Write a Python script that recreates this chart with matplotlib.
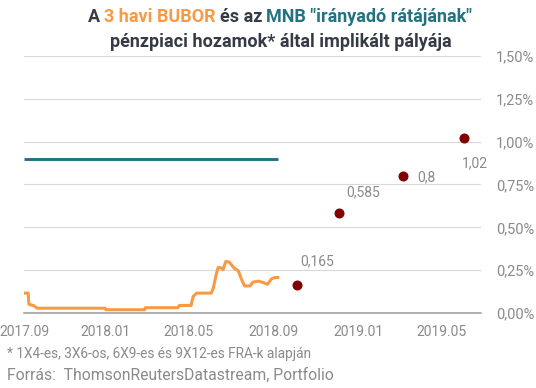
import numpy as np
import pandas as pd
import matplotlib
matplotlib.use('Agg')
import matplotlib.pyplot as plt
import matplotlib.dates as mdates

plt.rcParams['font.family'] = ['Roboto', 'DejaVu Sans']

# 3 havi BUBOR
bubor_dates = ['2017-09-06', '2017-09-12', '2017-09-13', '2017-09-20', '2017-09-25',
               '2018-01-01', '2018-01-02', '2018-02-27', '2018-02-28', '2018-04-16',
               '2018-04-18', '2018-05-05', '2018-05-06', '2018-05-08', '2018-05-13',
               '2018-06-03', '2018-06-06', '2018-06-10', '2018-06-13', '2018-06-18',
               '2018-06-20', '2018-06-24', '2018-06-29', '2018-07-02', '2018-07-06',
               '2018-07-12', '2018-07-17', '2018-07-21', '2018-07-29', '2018-08-02',
               '2018-08-10', '2018-08-17', '2018-08-23', '2018-08-29', '2018-09-03',
               '2018-09-07']
bubor_vals = [0.116, 0.116, 0.051, 0.043, 0.028,
              0.028, 0.019, 0.019, 0.031, 0.031,
              0.044, 0.044, 0.066, 0.097, 0.116,
              0.116, 0.145, 0.223, 0.266, 0.262,
              0.252, 0.301, 0.297, 0.282, 0.262,
              0.246, 0.193, 0.158, 0.158, 0.180,
              0.186, 0.178, 0.167, 0.200, 0.207,
              0.207]

# MNB irányadó ráta
mnb_dates = ['2017-09-06', '2018-09-07']
mnb_vals = [0.90, 0.90]

# FRA-k által implikált pálya
fra_dates = ['2018-10-05', '2018-12-04', '2019-03-06', '2019-06-02']
fra_vals = [0.165, 0.585, 0.80, 1.02]
fra_labels = ['0,165', '0,585', '0,8', '1,02']
fra_offsets = [(14, 17), (17.5, 15), (17, -1), (8, -18)]

x_ticks = ['2017-09-06', '2018-01-01', '2018-05-01', '2018-09-01', '2019-01-01', '2019-05-01']
y_ticks = [0, 0.25, 0.5, 0.75, 1.0, 1.25, 1.5]

orange = '#f79a45'
teal = '#22737e'
dark = '#353b45'
grey = '#8a8a8a'

fig = plt.figure(figsize=(5.36, 3.88), dpi=100)
ax = fig.add_axes([0.0448, 0.1933, 0.8526, 0.6624])

ax.plot(pd.to_datetime(mnb_dates), mnb_vals, color=teal, lw=2.1, solid_capstyle='butt')
ax.plot(pd.to_datetime(bubor_dates), bubor_vals, color=orange, lw=2.2)
ax.plot(pd.to_datetime(fra_dates), fra_vals, 'o', color='#800000', markersize=6.2, ls='none')

for d, v, lab, off in zip(fra_dates, fra_vals, fra_labels, fra_offsets):
    ax.annotate(lab, (pd.Timestamp(d), v), xytext=off, textcoords='offset points',
                ha='center', va='center', fontsize=10, color=grey)

ax.set_xlim(pd.Timestamp('2017-09-06'), pd.Timestamp('2019-06-27'))
ax.set_ylim(0, 1.5)
ax.set_xticks(pd.to_datetime(x_ticks))
ax.xaxis.set_major_formatter(mdates.DateFormatter('%Y.%m'))
ax.set_yticks(y_ticks)
ax.set_yticklabels([('%.2f' % t).replace('.', ',') + '%' for t in y_ticks])
ax.yaxis.tick_right()
ax.tick_params(axis='both', length=0, labelsize=10, colors=grey)
ax.tick_params(axis='y', pad=11, labelsize=10.5)
ax.tick_params(axis='x', pad=9)
ax.grid(axis='y', color='#d9d9d9', lw=0.8)
ax.set_axisbelow(True)
for s in ['top', 'left', 'right']:
    ax.spines[s].set_visible(False)
ax.spines['bottom'].set_color('#9a9a9a')
ax.spines['bottom'].set_linewidth(1.1)

# cím, több színnel
tfs = 13
t1 = fig.text(85 / 536, 1 - 21.7 / 388, 'A', fontsize=tfs, fontweight='bold', color=dark, va='baseline')
t2 = ax.annotate('3 havi BUBOR', xy=(1, 0), xycoords=t1, xytext=(3, 0), textcoords='offset points',
                 fontsize=tfs, fontweight='bold', color=orange, va='bottom', annotation_clip=False)
t3 = ax.annotate('és az', xy=(1, 0), xycoords=t2, xytext=(3, 0), textcoords='offset points',
                 fontsize=tfs, fontweight='bold', color=dark, va='bottom', annotation_clip=False)
t4 = ax.annotate('MNB "irányadó rátájának"', xy=(1, 0), xycoords=t3, xytext=(3, 0), textcoords='offset points',
                 fontsize=tfs, fontweight='bold', color=teal, va='bottom', annotation_clip=False)
fig.text(281 / 536, 1 - 46.7 / 388, 'pénzpiaci hozamok* által implikált pályája', fontsize=tfs,
         fontweight='bold', color=dark, va='baseline', ha='center')

# az első sort középre tolni
fig.canvas.draw()
r = fig.canvas.get_renderer()
x0 = t1.get_window_extent(r).x0
x1 = t4.get_window_extent(r).x1
shift = 280 - (x0 + x1) / 2
t1.set_x(t1.get_position()[0] + shift / 536)

fig.text(7 / 536, 1 - 354 / 388, '* 1X4-es, 3X6-os, 6X9-es és 9X12-es FRA-k alapján',
         fontsize=9.8, color=grey, va='center')
fig.text(7 / 536, 1 - 375 / 388, 'Forrás:  ThomsonReutersDatastream, Portfolio',
         fontsize=11.3, color=grey, va='center')

fig.savefig('out.png', dpi=100)
